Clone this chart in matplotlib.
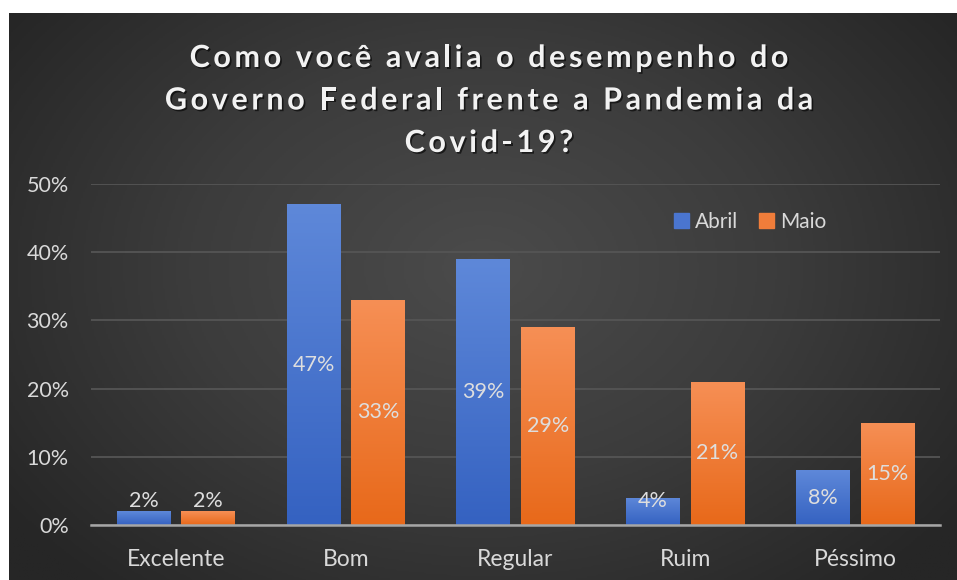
import numpy as np
import matplotlib
matplotlib.use('Agg')
import matplotlib.pyplot as plt
import matplotlib.patheffects as pe
from matplotlib.colors import LinearSegmentedColormap
from matplotlib.patches import Patch

# data
categorias = ['Excelente', 'Bom', 'Regular', 'Ruim', 'Péssimo']
abril = [2, 47, 39, 4, 8]
maio = [2, 33, 29, 21, 15]
series = ['Abril', 'Maio']
titulo = ['Como você avalia o desempenho do',
          'Governo Federal frente a Pandemia da',
          'Covid-19?']

W, H = 957, 580
fig = plt.figure(figsize=(W / 100, H / 100), dpi=100)
fig.patch.set_facecolor('white')

# background with radial gradient
bg = fig.add_axes([9 / W, 0, (W - 9) / W, (H - 13) / H])
bg.set_axis_off()
yy, xx = np.mgrid[0:1:300j, 0:1:500j]
r = np.sqrt(((xx - 0.5) / 0.62) ** 2 + ((yy - 0.55) / 0.75) ** 2)
r = np.clip(r, 0, 1)
bg_cmap = LinearSegmentedColormap.from_list('bg', ['#4b4b4b', '#3c3c3c', '#262626'])
bg.imshow(r, cmap=bg_cmap, aspect='auto', extent=[0, 1, 0, 1], origin='lower', vmin=0, vmax=1)
bg.set_xlim(0, 1)
bg.set_ylim(0, 1)

ax = fig.add_axes([91 / W, (H - 525) / H, (940 - 91) / W, (525 - 184) / H])
ax.patch.set_alpha(0)

x = np.arange(len(categorias))
bw = 0.315
off = 0.19
blue_cmap = LinearSegmentedColormap.from_list('b', ['#3562c1', '#5e88d9'])
orange_cmap = LinearSegmentedColormap.from_list('o', ['#e8691a', '#f68f55'])
fs = 15.5

grad = np.linspace(0, 1, 100).reshape(-1, 1)
for vals, dx, cm in [(abril, -off, blue_cmap), (maio, off, orange_cmap)]:
    bars = ax.bar(x + dx, vals, bw, color='none', zorder=3)
    for b, v in zip(bars, vals):
        x0 = b.get_x()
        im = ax.imshow(grad, cmap=cm, origin='lower', aspect='auto',
                       extent=[x0, x0 + bw, 0, v], zorder=3)
        im.set_clip_path(b)
        ly = max(v / 2, 3.5)
        ax.text(x0 + bw / 2, ly, f'{v}%', ha='center', va='center',
                fontsize=fs, color='#dedede', family='Lato', zorder=5)

ax.set_xlim(-0.5, len(categorias) - 0.5)
ax.set_ylim(0, 50)
ax.set_yticks(np.arange(0, 51, 10))
ax.set_yticklabels([f'{v}%' for v in range(0, 51, 10)])
ax.set_xticks(x)
ax.set_xticklabels(categorias)
ax.grid(axis='y', color='#555555', linewidth=1.3, zorder=0)
ax.set_axisbelow(True)
for s in ['top', 'right', 'left']:
    ax.spines[s].set_visible(False)
ax.spines['bottom'].set_color('#a6a6a6')
ax.spines['bottom'].set_linewidth(1.8)
ax.spines['bottom'].set_zorder(4)
ax.tick_params(length=0, colors='#d9d9d9', labelsize=fs)
ax.tick_params(axis='y', pad=16)
ax.tick_params(axis='x', pad=17)
for lab in ax.get_xticklabels() + ax.get_yticklabels():
    lab.set_family('Lato')
for lab in ax.get_xticklabels():
    lab.set_fontsize(16.5)

handles = [Patch(color='#4a75cf'), Patch(color='#f07d3a')]
leg = ax.legend(handles, series, loc='center', bbox_to_anchor=(750 / W, (H - 222) / H),
                bbox_transform=fig.transFigure, ncol=2, frameon=False,
                handlelength=0.7, handleheight=0.7, handletextpad=0.3,
                columnspacing=1.0, prop={'family': 'Lato', 'size': 15})
for t in leg.get_texts():
    t.set_color('#d9d9d9')

# title with letter spacing
fig.canvas.draw()
renderer = fig.canvas.get_renderer()
tprops = dict(fontsize=22, fontweight='bold', family='Lato')
shadow = [pe.withSimplePatchShadow(offset=(1.2, -1.2), shadow_rgbFace='black', alpha=0.6)]


def char_width(c):
    a = fig.text(0, 0, 'H' + c + 'H', **tprops)
    b = fig.text(0, 0, 'HH', **tprops)
    w = a.get_window_extent(renderer).width - b.get_window_extent(renderer).width
    a.remove()
    b.remove()
    return w


spacing = 3.6
baselines = [67, 109.5, 152]
cx = 489
for line, base in zip(titulo, baselines):
    widths = [char_width(c) for c in line]
    total = sum(widths) + spacing * (len(line) - 1)
    px = cx - total / 2
    for c, w in zip(line, widths):
        if c != ' ':
            fig.text(px / W, (H - base) / H, c, ha='left', va='baseline',
                     color='#f2f2f2', path_effects=shadow, **tprops)
        px += w + spacing

fig.savefig('out.png', dpi=100, facecolor='white')
